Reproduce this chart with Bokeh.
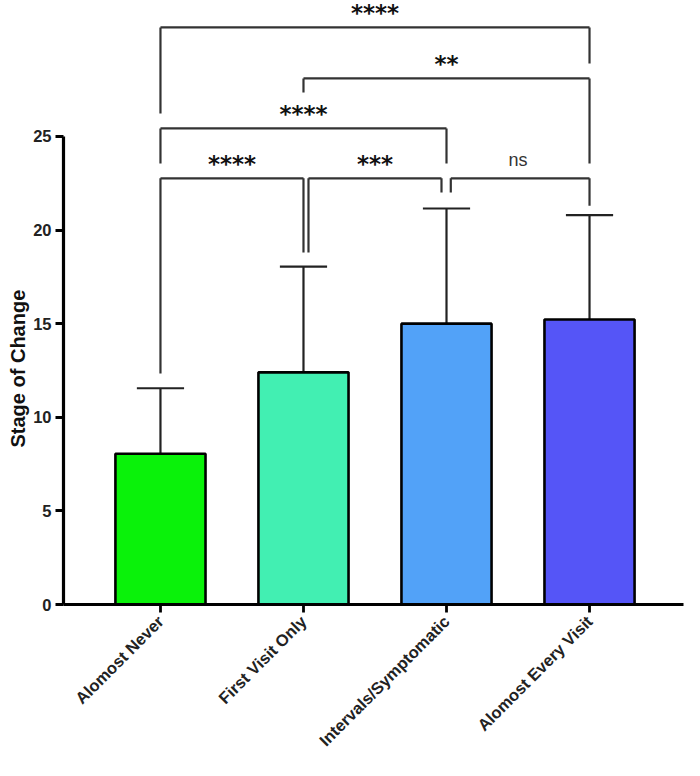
import math
from bokeh.plotting import figure
from bokeh.models import Range1d, FixedTicker, ColumnDataSource, Title
from bokeh.core.properties import value
from bokeh.embed import file_html
from bokeh.resources import INLINE

categories = ["Alomost Never", "First Visit Only", "Intervals/Symptomatic", "Alomost Every Visit"]
means = [8.05, 12.4, 15.0, 15.22]
sds = [3.5, 5.65, 6.15, 5.58]
colors = ["#0AF20A", "#42EFB2", "#52A2F8", "#5555F7"]

# significance comparisons (index pairs and labels)
comp_left = [0, 1, 0, 0, 1, 2]
comp_right = [3, 3, 2, 1, 2, 3]
comp_label = ["****", "**", "****", "****", "***", "ns"]
# bracket layout (data-unit heights of bar, leg ends, small x nudges)
br_y = [30.82, 28.1, 25.43, 22.76, 22.76, 22.76]
br_left_end = [26.23, 27.35, 23.56, 12.34, 18.8, 22.0]
br_right_end = [28.9, 23.56, 23.56, 18.8, 22.0, 21.3]
br_left_nudge = [0, 0, 0, 0, 0.035, 0.03]
br_right_nudge = [0, 0, 0, 0, -0.035, 0]

xs = list(range(len(categories)))

p = figure(width=700, height=776, output_backend="svg", toolbar_location=None,
           x_range=Range1d(-0.678, 3.776), y_range=Range1d(0, 32.26),
           min_border_left=63, min_border_right=0, min_border_top=0, min_border_bottom=172)
p.outline_line_color = None
p.grid.visible = False
p.background_fill_color = "white"
p.border_fill_color = "white"

src = ColumnDataSource(dict(x=xs, top=means, color=colors,
                            err=[m + s for m, s in zip(means, sds)]))
# error bars
p.segment(x0="x", y0="top", x1="x", y1="err", source=src, line_color="#222222", line_width=2.2)
p.segment(x0=[x - 0.165 for x in xs], y0=src.data["err"], x1=[x + 0.165 for x in xs],
          y1=src.data["err"], line_color="#222222", line_width=2.2)
# bars
p.vbar(x="x", top="top", bottom=0, width=0.63, fill_color="color", line_color="black",
       line_width=2.6, source=src)

# brackets
bx0, by0, bx1, by1 = [], [], [], []
for i in range(len(comp_label)):
    xl = comp_left[i] + br_left_nudge[i]
    xr = comp_right[i] + br_right_nudge[i]
    bx0 += [xl, xl, xr]
    by0 += [br_left_end[i], br_y[i], br_right_end[i]]
    bx1 += [xl, xr, xr]
    by1 += [br_y[i], br_y[i], br_y[i]]
p.segment(x0=bx0, y0=by0, x1=bx1, y1=by1, line_color="#333333", line_width=2.2)

star_idx = [i for i in range(len(comp_label)) if comp_label[i] != "ns"]
p.text(x=[(comp_left[i] + comp_right[i]) / 2 for i in star_idx], y=[br_y[i] for i in star_idx],
       text=[comp_label[i] for i in star_idx], text_align="center", text_baseline="middle",
       y_offset=-14, text_font=value("DejaVu Sans"), text_font_style="bold",
       text_font_size="23px", text_color="#111111")
ns_idx = [i for i in range(len(comp_label)) if comp_label[i] == "ns"]
p.text(x=[(comp_left[i] + comp_right[i]) / 2 for i in ns_idx], y=[br_y[i] for i in ns_idx],
       text=[comp_label[i] for i in ns_idx], text_align="center", text_baseline="middle",
       y_offset=-18, text_font=value("Liberation Sans"), text_font_size="18px",
       text_color="#333333")

# axes
for ax in (p.xaxis[0], p.yaxis[0]):
    ax.axis_line_width = 3.2
    ax.axis_line_color = "black"
    ax.major_tick_line_width = 2.8
    ax.major_tick_line_color = "black"
    ax.major_tick_out = 8
    ax.major_tick_in = 0
    ax.minor_tick_line_color = None
    ax.major_label_text_font = "Liberation Sans"
    ax.major_label_text_font_style = "bold"
    ax.major_label_text_color = "#222222"

p.yaxis[0].bounds = (0, 25)
p.yaxis[0].ticker = FixedTicker(ticks=[0, 5, 10, 15, 20, 25])
p.yaxis[0].major_label_text_font_size = "16.5px"
p.yaxis[0].major_label_standoff = 4

# y-axis title, placed along the axis span (0..25)
p.add_layout(Title(text="Stage of Change", align="left", offset=157, standoff=4,
                   text_font="Liberation Sans", text_font_style="bold",
                   text_font_size="20px", text_color="#111111"), "left")

p.xaxis[0].bounds = (-0.678, 3.657)
p.xaxis[0].ticker = FixedTicker(ticks=xs)
p.xaxis[0].major_label_overrides = {i: c for i, c in enumerate(categories)}
p.xaxis[0].major_label_orientation = math.pi / 4
p.xaxis[0].major_label_text_font_size = "16.5px"
p.xaxis[0].major_label_standoff = 6

open("out.html", "w").write(file_html(p, INLINE))
